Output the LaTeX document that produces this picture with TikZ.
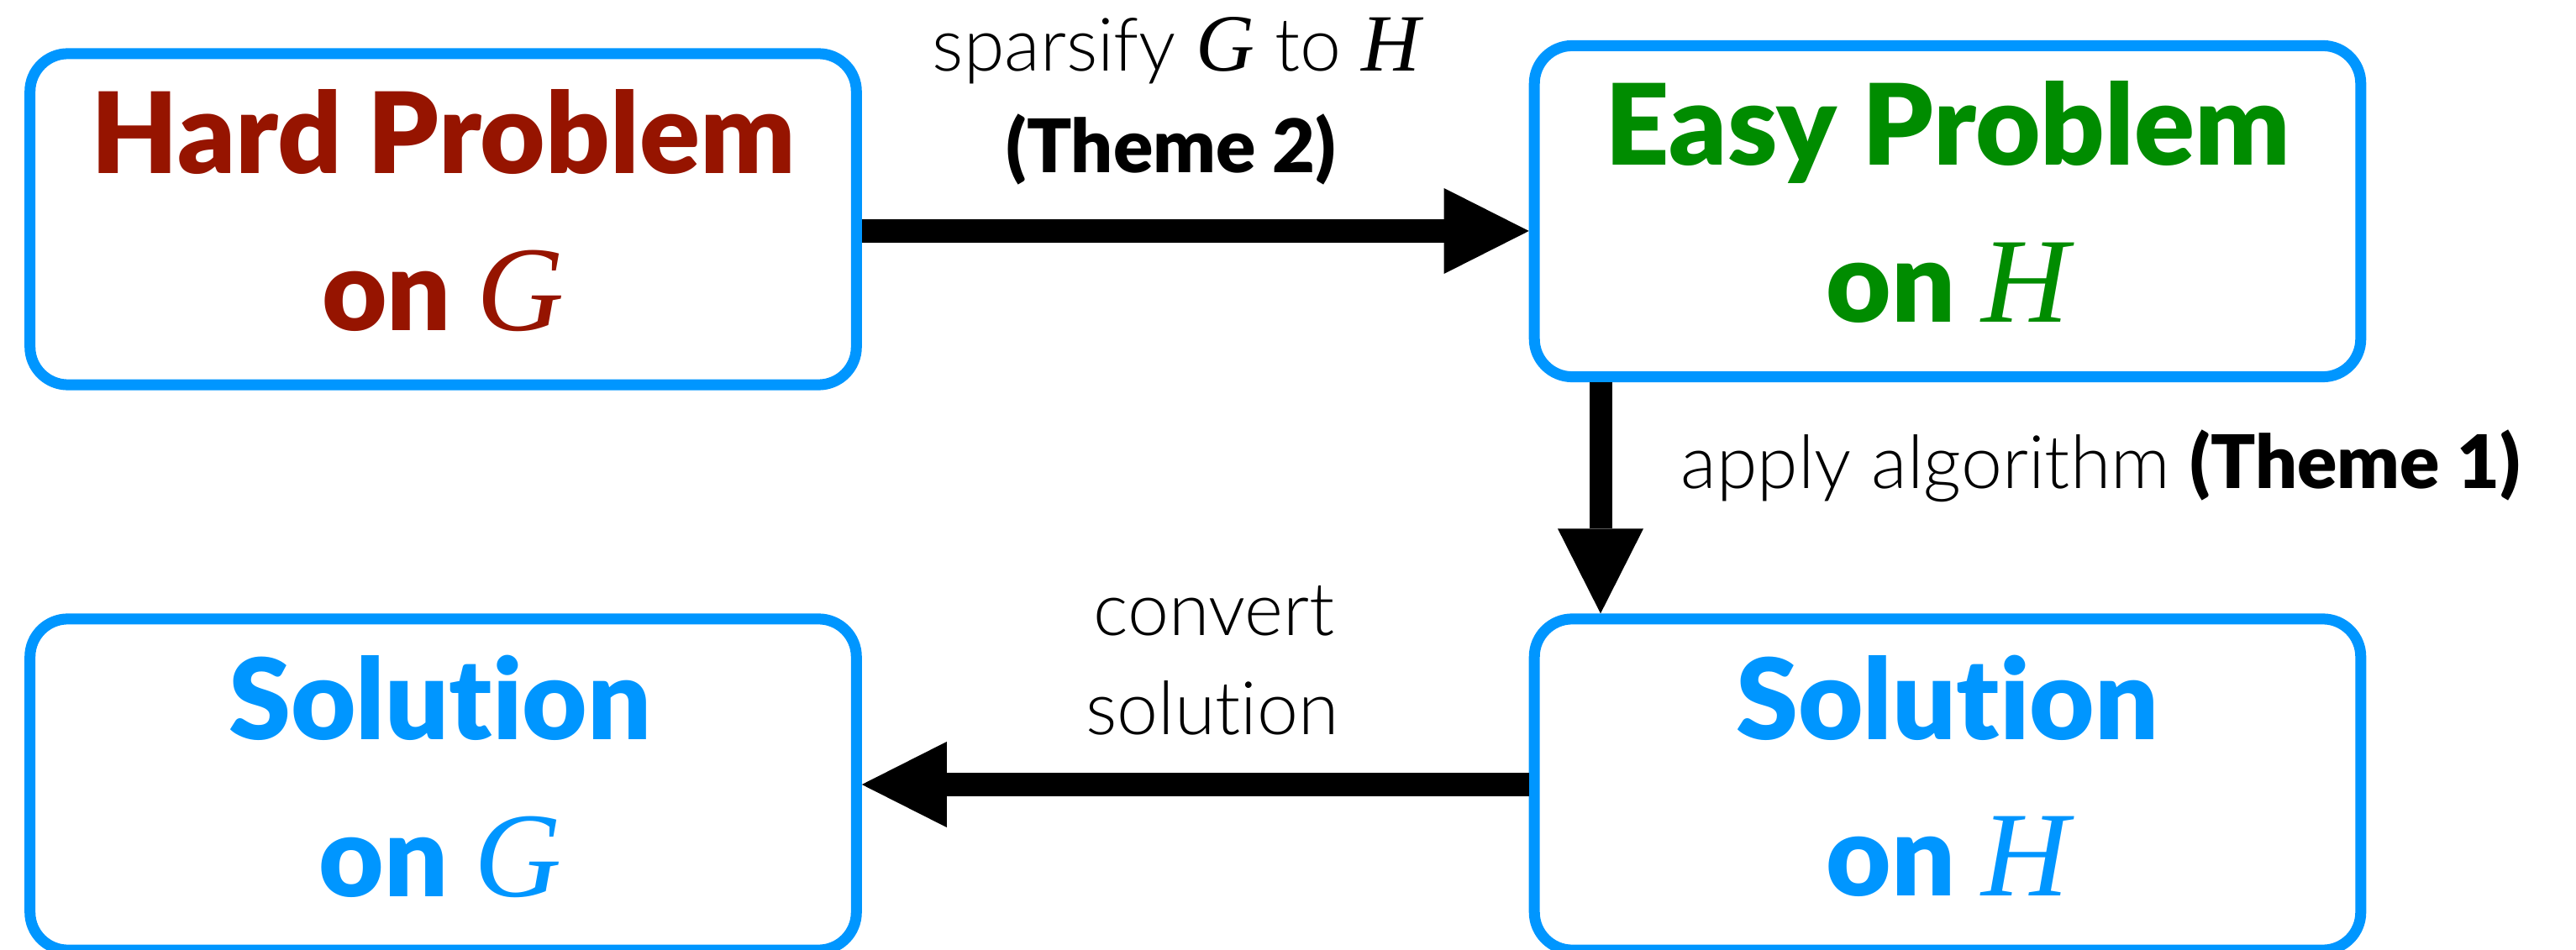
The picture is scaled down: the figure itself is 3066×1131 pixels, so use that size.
\documentclass[tikz,border=0pt]{standalone}
\usepackage{fontspec}
\setmainfont{Lato}
\newfontfamily\heavyfont{Lato Black}[Ligatures={NoCommon}]
\newfontfamily\lightfont{Lato Light}[Ligatures={NoCommon}]
\newfontfamily\timesfont{Liberation Serif}
\usetikzlibrary{arrows.meta}
\definecolor{cred}{RGB}{150,20,0}
\definecolor{cgreen}{RGB}{0,140,0}
\definecolor{cblue}{RGB}{0,150,255}
\newcommand\hvar[1]{{\timesfont\itshape\fontsize{41}{41}\selectfont #1}}
\newcommand\lvar[1]{{\timesfont\itshape\fontsize{27.5}{27.5}\selectfont #1}}
\tikzset{
  box/.style={draw=cblue, line width=0.13cm, rounded corners=0.45cm, fill=white,
    minimum width=9.83cm, minimum height=3.94cm, inner sep=0pt},
  hdr/.style={font=\heavyfont\fontsize{38}{40}\selectfont, inner sep=0pt, anchor=base},
  lbl/.style={font=\lightfont\fontsize{25}{28}\selectfont, inner sep=0pt, anchor=base},
  arr/.style={line width=0.27cm, -{Triangle[length=1.01cm,width=1.02cm,line width=0pt]}},
}
\begin{document}
\begin{tikzpicture}[x=0.01cm,y=-0.01cm]
\useasboundingbox (0,0) rectangle (3066,1131);
% boxes
\node[box] (hp) at (527.5,261) {};
\node[box] (ep) at (2318,251.5) {};
\node[box] (sg) at (527.5,934) {};
\node[box] (sh) at (2318,934) {};
% box texts
\node[hdr, text=cred] (hp1) at (527.5,207) {Hard Problem};
\node[hdr, text=cred] (hp2) at (527.5,394) {on \hvar{G}};
\node[hdr, text=cgreen] (ep1) at (2318,197) {Easy Problem};
\node[hdr, text=cgreen] (ep2) at (2318,384) {on \hvar{H}};
\node[hdr, text=cblue] (sg1) at (524,880) {Solution};
\node[hdr, text=cblue] (sg2) at (524,1067) {on \hvar{G}};
\node[hdr, text=cblue] (sh1) at (2318,880) {Solution};
\node[hdr, text=cblue] (sh2) at (2318,1066) {on \hvar{H}};
% connectors
\coordinate (ya) at (0,275);
\coordinate (vx) at (1905,0);
\draw[arr] (hp.east |- ya) -- (ep.west |- ya);
\draw[arr] (ep.south -| vx) -- (sh.north -| vx);
\draw[arr] (sh.west) -- (sg.east);
% labels
\node[lbl] (l1) at (1400,85) {sparsify \lvar{G} to \lvar{H}};
\node[lbl, font=\heavyfont\fontsize{25}{28}\selectfont] (l2) at (1394,206) {(Theme 2)};
\node[lbl, anchor=base west] (l3) at (2000,582) {apply algorithm {\heavyfont(Theme 1)}};
\node[lbl] (l4) at (1445,757) {convert};
\node[lbl] (l5) at (1443,874) {solution};
\end{tikzpicture}
\end{document}
